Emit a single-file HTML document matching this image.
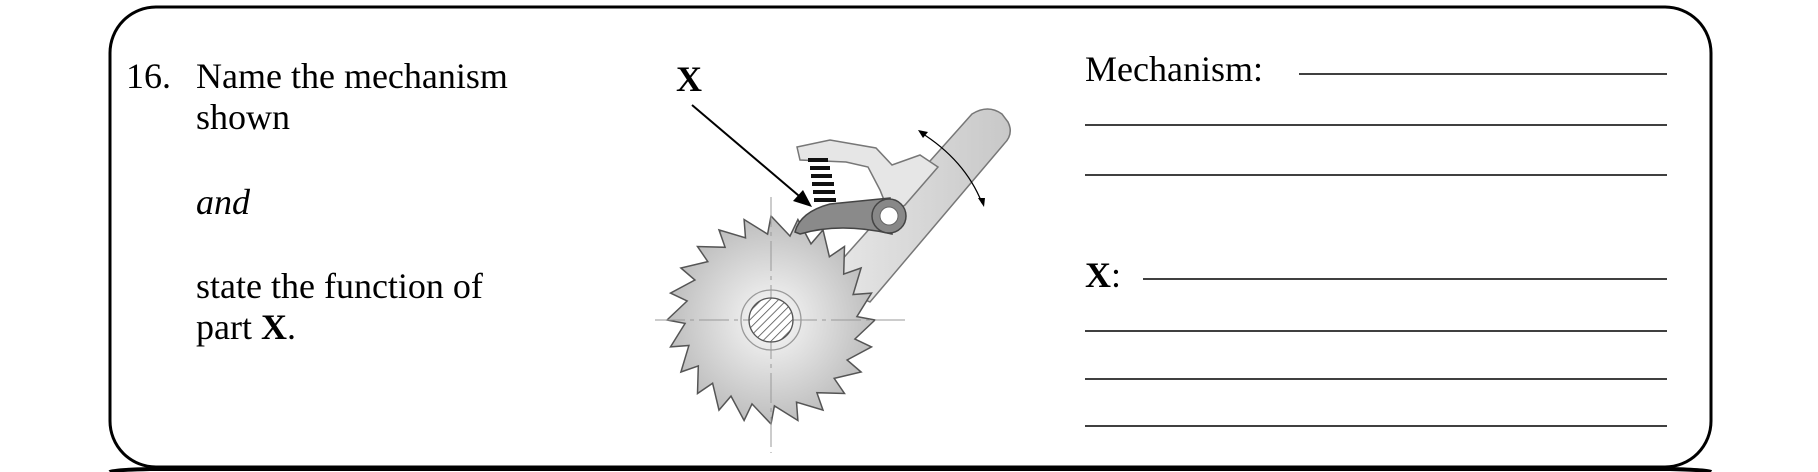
<!DOCTYPE html>
<html><head><meta charset="utf-8"><style>
html,body{margin:0;padding:0;background:#fff;}
body{width:1818px;height:472px;overflow:hidden;position:relative;font-family:"Liberation Serif",serif;}
</style></head><body>
<svg width="1818" height="472" viewBox="0 0 1818 472" xmlns="http://www.w3.org/2000/svg" style="position:absolute;left:0;top:0">
<defs>
<radialGradient id="g" cx="0.5" cy="0.5" r="0.5">
<stop offset="0" stop-color="#fafafa"/><stop offset="1" stop-color="#bdbdbd"/></radialGradient>
<linearGradient id="arm" x1="0" y1="0" x2="1" y2="0"><stop offset="0" stop-color="#e8e8e8"/><stop offset="1" stop-color="#c8c8c8"/></linearGradient>
<pattern id="hatch" width="6" height="6" patternUnits="userSpaceOnUse" patternTransform="rotate(45)"><rect width="6" height="6" fill="#fff"/><line x1="0" y1="0" x2="0" y2="6" stroke="#555" stroke-width="1.6"/></pattern>
</defs>
<rect x="110" y="7" width="1601" height="460" rx="46" ry="46" fill="none" stroke="#000" stroke-width="3"/>
<path d="M110 472 Q112 470 150 469 L1670 469 Q1708 470 1711 472" fill="none" stroke="#000" stroke-width="4"/>
<g font-size="36" fill="#000">
<text x="126" y="88">16.</text>
<text x="196" y="88">Name the mechanism</text>
<text x="196" y="129">shown</text>
<text x="196" y="214" font-style="italic">and</text>
<text x="196" y="298">state the function of</text>
<text x="196" y="339">part <tspan font-weight="bold">X</tspan>.</text>
<text x="676" y="91" font-weight="bold">X</text>
<text x="1085" y="81">Mechanism:</text>
<text x="1085" y="287" font-weight="bold">X<tspan font-weight="normal">:</tspan></text>
</g>
<g stroke="#000" stroke-width="1.6">
<line x1="1299" y1="74" x2="1667" y2="74"/>
<line x1="1085" y1="125" x2="1667" y2="125"/>
<line x1="1085" y1="175" x2="1667" y2="175"/>
<line x1="1143" y1="279" x2="1667" y2="279"/>
<line x1="1085" y1="331" x2="1667" y2="331"/>
<line x1="1085" y1="379" x2="1667" y2="379"/>
<line x1="1085" y1="426" x2="1667" y2="426"/>
</g>
<!-- arm -->
<path d="M822 282 L972 114 Q988 104 1002 114 L1008 122 Q1014 134 1004 144 L870 302 Z" fill="url(#arm)" stroke="#777" stroke-width="1.5"/>
<path d="M797 147 L830 140 L876 148 L892 165 L920 155 L938 167 L905 205 L890 215 L880 190 L868 167 L846 162 L800 160 Z" fill="#e6e6e6" stroke="#777" stroke-width="1.5"/>
<!-- gear -->
<polygon id="gear" fill="url(#g)" stroke="#555" stroke-width="1.5" points=""/>
<line x1="655" y1="320" x2="907" y2="320" stroke="#999" stroke-width="1" stroke-dasharray="30 5 4 5"/>
<line x1="771" y1="197" x2="771" y2="453" stroke="#999" stroke-width="1" stroke-dasharray="30 5 4 5"/>
<circle cx="771" cy="320" r="30" fill="none" stroke="#999" stroke-width="1.3"/>
<circle cx="771" cy="320" r="22" fill="url(#hatch)" stroke="#555" stroke-width="1.3"/>
<!-- spring -->
<g fill="#111">
<rect x="808" y="158" width="20" height="4"/><rect x="810" y="166" width="20" height="4"/><rect x="811" y="174" width="21" height="4"/><rect x="812" y="182" width="22" height="4"/><rect x="813" y="190" width="22" height="4"/><rect x="814" y="198" width="22" height="4"/>
</g>
<!-- pawl X -->
<path d="M795 232 Q800 212 830 204 L890 198 L892 234 Q840 222 800 234 Z" fill="#8a8a8a" stroke="#444" stroke-width="1.5"/>
<circle cx="889" cy="216" r="17" fill="#888" stroke="#444" stroke-width="1.5"/>
<circle cx="889" cy="216" r="9" fill="#fff" stroke="#666" stroke-width="1"/>
<!-- leader arrow -->
<line x1="692" y1="105" x2="805" y2="201" stroke="#000" stroke-width="2"/>
<polygon points="812,207 793,201 803,190" fill="#000"/>
<!-- double arrow -->
<path d="M920 132 Q965 160 982 203" fill="none" stroke="#000" stroke-width="1.3"/>
<polygon points="918,130 928,132 923,138" fill="#000"/>
<polygon points="984,207 978,198 985,198" fill="#000"/>
</svg>
<script>
(function(){var cx=771,cy=320,R=104,r=86,n=24,p=[];
for(var i=0;i<n;i++){var a=i*2*Math.PI/n,b=(i+0.85)*2*Math.PI/n;
p.push((cx+R*Math.cos(a)).toFixed(1)+","+(cy+R*Math.sin(a)).toFixed(1));
p.push((cx+r*Math.cos(b)).toFixed(1)+","+(cy+r*Math.sin(b)).toFixed(1));}
document.getElementById("gear").setAttribute("points",p.join(" "));})();
</script>
</body></html>
